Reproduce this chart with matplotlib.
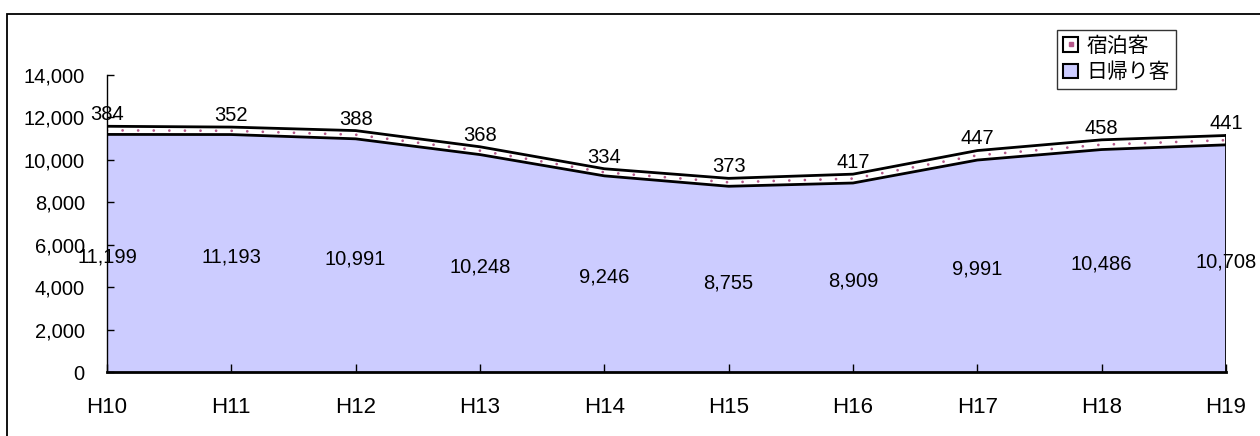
import matplotlib
matplotlib.use("Agg")
import matplotlib.pyplot as plt
from matplotlib.patches import Rectangle, Patch
from matplotlib.lines import Line2D
from matplotlib.legend_handler import HandlerTuple
import numpy as np

plt.rcParams['font.family'] = ['Liberation Sans', 'Noto Sans CJK JP', 'DejaVu Sans']

years = ['H10', 'H11', 'H12', 'H13', 'H14', 'H15', 'H16', 'H17', 'H18', 'H19']
day_trip = [11199, 11193, 10991, 10248, 9246, 8755, 8909, 9991, 10486, 10708]
overnight = [384, 352, 388, 368, 334, 373, 417, 447, 458, 441]
label_day = '日帰り客'
label_stay = '宿泊客'

day = np.array(day_trip)
stay = np.array(overnight)
total = day + stay
x = np.arange(len(years))

DOT = '#B5588A'

fig = plt.figure(figsize=(12.6, 4.36), dpi=100)
# outer chart frame (cut off at right/bottom)
fig.patches.append(Rectangle((7/1260, -0.05), 1.1, 1 - 14/436 + 0.05,
                             transform=fig.transFigure, fill=False,
                             edgecolor='black', linewidth=1.3))

ax = fig.add_axes([107/1260, 1 - 372/436, (1226 - 107)/1260, (372 - 75)/436])

ax.fill_between(x, 0, day, facecolor='#CCCCFF', edgecolor='none', zorder=1)
ax.fill_between(x, day, total, facecolor='white', edgecolor='none', zorder=1)
# dotted pattern inside the overnight band
ax.plot(x, day + stay / 2, color=DOT, linewidth=2.0,
        linestyle=(0, (0.01, 5.6)), dash_capstyle='round', zorder=2)
ax.plot(x, day, color='black', linewidth=2, zorder=3)
ax.plot(x, total, color='black', linewidth=2, zorder=3)
ax.plot([x[-1], x[-1]], [0, total[-1]], color='black', linewidth=2, zorder=3)

ax.set_xlim(0, len(years) - 1)
ax.set_ylim(0, 14000)
ax.set_yticks(np.arange(0, 14001, 2000))
ax.set_yticklabels([f'{v:,}' for v in range(0, 14001, 2000)])
ax.set_xticks(x)
ax.set_xticklabels(years)

for s in ['top', 'right']:
    ax.spines[s].set_visible(False)
ax.spines['left'].set_linewidth(1.0)
ax.spines['bottom'].set_linewidth(2.0)
ax.spines['left'].set_zorder(4)
ax.spines['bottom'].set_zorder(4)

ax.tick_params(axis='y', direction='in', length=5, width=1, labelsize=14.5, pad=16)
ax.tick_params(axis='x', direction='in', length=6, width=1, labelsize=16, pad=18)

for i in range(len(years)):
    ax.annotate(f'{overnight[i]:,}', (x[i], total[i]), xytext=(0, 1.5),
                textcoords='offset points', ha='center', va='bottom',
                fontsize=14.5, zorder=5)
    ax.text(x[i], day[i] / 2 - 160, f'{day_trip[i]:,}', ha='center',
            va='center', fontsize=14.5, zorder=5)

stay_handle = (Patch(facecolor='white', edgecolor='black', linewidth=1.5),
               Line2D([], [], marker='s', markersize=2.2, color=DOT, linestyle='none'))
day_handle = Patch(facecolor='#CCCCFF', edgecolor='black', linewidth=1.5)
leg = fig.legend(handles=[stay_handle, day_handle], labels=[label_stay, label_day],
                 handler_map={tuple: HandlerTuple(ndivide=1)},
                 loc='upper left',
                 bbox_to_anchor=(1057/1260, 1 - 30/436), fontsize=15,
                 frameon=True, fancybox=False, edgecolor='black',
                 handlelength=0.7, handleheight=0.7, handletextpad=0.4,
                 borderpad=0.3, labelspacing=0.35, borderaxespad=0)
leg.get_frame().set_linewidth(1.0)

fig.savefig('out.png', dpi=100)
